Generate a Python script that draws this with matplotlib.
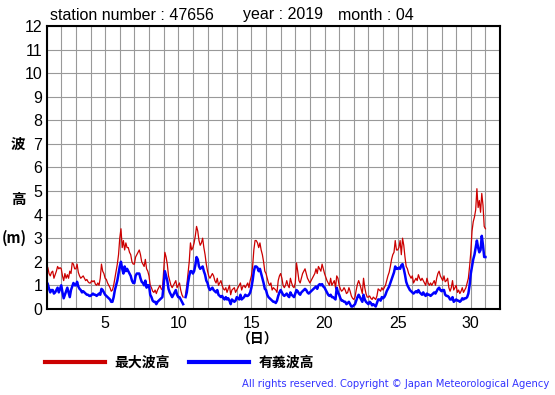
import numpy as np
import matplotlib
matplotlib.use("Agg")
import matplotlib.pyplot as plt

plt.rcParams['font.family'] = ['Liberation Sans', 'Noto Sans CJK JP', 'DejaVu Sans']

# 2-hourly readings, April 2019 (day 1 00h ... day 30 22h, plus 31 00h)
max_wave = [
    1.85, 1.75, 1.5, 1.4, 1.55, 1.6, 1.3, 1.45, 1.6, 1.8, 1.7, 1.75,      # 1
    1.7, 1.4, 1.2, 1.5, 1.3, 1.45, 1.3, 1.6, 1.5, 1.95, 1.9, 1.7,         # 2
    1.7, 1.9, 1.55, 1.4, 1.3, 1.35, 1.4, 1.3, 1.2, 1.25, 1.15, 1.1,       # 3
    1.1, 1.2, 1.15, 1.2, 1.05, 1.0, 1.1, 1.0, 1.3, 1.9, 1.6, 1.5,         # 4
    1.3, 1.25, 1.1, 1.0, 0.9, 0.75, 0.8, 1.0, 1.3, 1.6, 1.9, 2.3,         # 5
    3.0, 3.4, 2.6, 2.9, 2.5, 2.8, 2.6, 2.6, 2.4, 2.3, 2.0, 1.9,           # 6
    1.9, 2.2, 2.3, 2.4, 2.5, 2.3, 2.0, 1.9, 1.8, 2.1, 1.7, 1.6,           # 7
    1.4, 1.0, 0.9, 0.75, 0.7, 0.8, 0.65, 0.8, 0.9, 1.0, 0.85, 0.8,        # 8
    1.6, 2.4, 2.2, 1.9, 1.4, 1.2, 1.0, 0.9, 1.0, 1.1, 1.2, 0.9,           # 9
    1.0, 1.1, 0.8, 0.6, 0.5, np.nan, 0.6, 1.0, 1.5, 2.0, 2.8, 2.5,        # 10
    2.6, 2.8, 3.1, 3.5, 3.3, 2.9, 2.7, 2.8, 3.0, 2.6, 2.3, 1.9,           # 11
    1.6, 1.4, 1.3, 1.4, 1.5, 1.4, 1.2, 1.1, 1.3, 1.0, 1.1, 1.2,           # 12
    1.0, 0.85, 0.8, 0.9, 0.7, 0.85, 1.0, 0.6, 0.8, 0.85, 0.9, 0.7,        # 13
    0.8, 0.9, 1.0, 1.1, 0.8, 0.95, 1.0, 0.9, 1.0, 1.1, 0.9, 1.2,          # 14
    1.4, 1.8, 2.5, 2.9, 2.9, 2.8, 2.6, 2.8, 2.5, 2.3, 2.0, 1.6,           # 15
    1.5, 1.3, 1.1, 1.0, 1.1, 0.8, 0.9, 0.85, 0.8, 0.7, 1.2, 1.4,          # 16
    1.5, 1.3, 1.0, 0.9, 1.0, 1.2, 1.0, 0.9, 1.3, 1.1, 0.95, 0.9,          # 17
    1.1, 1.95, 1.6, 1.2, 1.1, 1.3, 1.5, 1.6, 1.7, 1.5, 1.3, 1.2,          # 18
    1.1, 1.2, 1.3, 1.4, 1.5, 1.7, 1.5, 1.8, 1.7, 1.6, 1.9, 1.7,           # 19
    1.5, 1.35, 1.2, 1.1, 1.0, 1.3, 1.0, 1.1, 1.2, 0.9, 1.4, 1.3,          # 20
    1.0, 0.85, 0.75, 0.8, 0.9, 0.8, 0.65, 0.7, 0.9, 0.75, 0.55, 0.45,     # 21
    0.4, 0.5, 0.8, 1.05, 1.2, 1.05, 0.85, 0.65, 1.3, 0.9, 0.65, 0.5,      # 22
    0.5, 0.55, 0.45, 0.4, 0.5, 0.45, 0.4, 0.55, 0.85, 0.8, 0.75, 0.9,     # 23
    0.8, 0.9, 1.0, 1.2, 1.4, 1.55, 1.8, 2.1, 2.3, 2.4, 2.9, 2.5,          # 24
    2.5, 2.6, 2.9, 2.3, 3.0, 2.7, 2.2, 1.8, 1.7, 1.5, 1.4, 1.3,           # 25
    1.4, 1.1, 1.2, 1.3, 1.2, 1.45, 1.3, 1.2, 1.3, 1.2, 1.1, 1.0,          # 26
    1.3, 1.1, 1.0, 1.1, 1.0, 1.1, 1.2, 1.0, 1.3, 1.5, 1.6, 1.4,           # 27
    1.3, 1.2, 1.4, 1.15, 1.2, 1.3, 0.9, 0.75, 0.9, 1.2, 0.8, 0.9,         # 28
    1.0, 0.7, 0.8, 0.65, 0.75, 0.9, 0.7, 0.8, 0.9, 1.1, 1.3, 1.8,         # 29
    2.4, 3.3, 3.7, 3.9, 4.2, 5.1, 4.3, 4.6, 4.1, 4.9, 4.4, 3.5,           # 30
    3.4,
]
sig_wave = [
    1.15, 1.05, 0.85, 0.7, 0.8, 0.8, 0.65, 0.7, 0.8, 0.9, 0.7, 0.85,      # 1
    1.0, 0.7, 0.45, 0.6, 0.75, 0.9, 0.7, 0.5, 0.8, 0.95, 1.1, 1.0,        # 2
    1.0, 1.15, 0.95, 0.85, 0.8, 0.7, 0.75, 0.7, 0.65, 0.6, 0.6, 0.55,     # 3
    0.55, 0.6, 0.65, 0.6, 0.6, 0.55, 0.6, 0.65, 0.6, 0.85, 0.8, 0.7,      # 4
    0.6, 0.55, 0.5, 0.45, 0.4, 0.3, 0.3, 0.5, 0.8, 1.0, 1.2, 1.5,         # 5
    1.8, 2.0, 1.7, 1.5, 1.8, 1.6, 1.7, 1.6, 1.5, 1.4, 1.2, 1.1,           # 6
    1.1, 1.4, 1.5, 1.5, 1.5, 1.3, 1.15, 1.1, 1.0, 1.2, 0.9, 1.0,          # 7
    1.0, 0.6, 0.5, 0.35, 0.3, 0.3, 0.2, 0.3, 0.35, 0.4, 0.45, 0.5,        # 8
    1.0, 1.6, 1.4, 1.2, 0.85, 0.7, 0.6, 0.5, 0.6, 0.7, 0.8, 0.6,          # 9
    0.5, 0.5, 0.4, 0.3, 0.2, np.nan, 0.5, 0.7, 1.1, 1.4, 1.6, 1.6,        # 10
    1.5, 1.6, 1.85, 2.2, 2.1, 1.8, 1.7, 1.75, 1.8, 1.6, 1.45, 1.2,        # 11
    1.1, 0.9, 0.8, 0.85, 0.9, 0.8, 0.75, 0.7, 0.8, 0.6, 0.55, 0.5,        # 12
    0.55, 0.45, 0.4, 0.5, 0.4, 0.45, 0.35, 0.2, 0.4, 0.35, 0.3, 0.35,     # 13
    0.5, 0.45, 0.4, 0.6, 0.4, 0.45, 0.5, 0.6, 0.55, 0.55, 0.6, 0.7,       # 14
    0.9, 1.2, 1.6, 1.8, 1.8, 1.75, 1.6, 1.7, 1.5, 1.3, 1.1, 0.85,         # 15
    0.8, 0.6, 0.5, 0.45, 0.4, 0.35, 0.3, 0.3, 0.25, 0.35, 0.55, 0.7,      # 16
    0.8, 0.7, 0.6, 0.55, 0.6, 0.65, 0.55, 0.5, 0.7, 0.6, 0.55, 0.5,       # 17
    0.65, 0.8, 0.75, 0.65, 0.6, 0.7, 0.75, 0.8, 0.85, 0.8, 0.7, 0.65,     # 18
    0.7, 0.75, 0.8, 0.85, 0.9, 0.95, 0.85, 1.0, 1.05, 1.0, 1.05, 0.95,    # 19
    0.9, 0.8, 0.7, 0.6, 0.55, 0.6, 0.5, 0.5, 0.45, 0.4, 0.9, 0.7,         # 20
    0.6, 0.45, 0.35, 0.35, 0.3, 0.3, 0.2, 0.25, 0.3, 0.2, 0.1, 0.1,       # 21
    0.15, 0.2, 0.35, 0.5, 0.6, 0.5, 0.4, 0.3, 0.6, 0.4, 0.3, 0.25,        # 22
    0.2, 0.3, 0.25, 0.15, 0.2, 0.15, 0.1, 0.25, 0.4, 0.4, 0.35, 0.5,      # 23
    0.45, 0.5, 0.6, 0.75, 0.85, 0.95, 1.1, 1.25, 1.4, 1.55, 1.8, 1.7,     # 24
    1.7, 1.75, 1.7, 1.85, 1.9, 1.7, 1.45, 1.15, 1.0, 0.9, 0.8, 0.75,      # 25
    0.7, 0.65, 0.7, 0.75, 0.7, 0.8, 0.7, 0.65, 0.6, 0.7, 0.6, 0.55,       # 26
    0.65, 0.6, 0.6, 0.55, 0.6, 0.65, 0.7, 0.65, 0.75, 0.85, 0.9, 0.8,     # 27
    0.75, 0.8, 0.8, 0.6, 0.55, 0.55, 0.5, 0.4, 0.4, 0.5, 0.3, 0.35,       # 28
    0.4, 0.35, 0.35, 0.3, 0.35, 0.45, 0.4, 0.45, 0.45, 0.5, 0.65, 1.0,    # 29
    1.5, 1.8, 2.1, 2.3, 2.6, 2.9, 2.6, 2.4, 2.5, 3.1, 2.7, 2.2,           # 30
    2.2,
]
day_ticks = [5, 10, 15, 20, 25, 30]
height_ticks = list(range(0, 13))

t = 1 + np.arange(len(max_wave)) * 2 / 24.0

fig = plt.figure(figsize=(5.55, 3.95), dpi=100)
ax = fig.add_axes([0.084, 0.218, 0.817, 0.716])

ax.plot(t, max_wave, color="#cc0000", lw=0.9)
ax.plot(t, sig_wave, color="#0000ff", lw=1.8)

ax.set_xlim(1, 32)
ax.set_ylim(0, 12)
ax.set_xticks(day_ticks)
ax.set_yticks(height_ticks)
ax.set_xticks(np.arange(1, 33), minor=True)
ax.grid(which="both", color="#999999", lw=0.8)
ax.tick_params(which="both", length=0, labelsize=11.5)
ax.tick_params(axis="x", pad=5)
ax.tick_params(axis="y", pad=3)
for s in ax.spines.values():
    s.set_color("black"); s.set_linewidth(1.5)

fig.text(50/555, 1 - 15/395, "station number : 47656", fontsize=11.5, va="center")
fig.text(243/555, 1 - 15/395, "year : 2019", fontsize=11.5, va="center")
fig.text(338/555, 1 - 15/395, "month : 04", fontsize=11.5, va="center")

cjk = ["Noto Sans CJK JP", "DejaVu Sans"]
fig.text(18/555, 1 - 144/395, "波", family=cjk, fontsize=10.5, weight="bold", ha="center", va="center")
fig.text(18/555, 1 - 199/395, "高", family=cjk, fontsize=10.5, weight="bold", ha="center", va="center")
fig.text(14/555, 1 - 238/395, "(m)", family=cjk, fontsize=10.5, weight="bold", ha="center", va="center")
fig.text(258/555, 1 - 340/395, "（日）", family=cjk, fontsize=10, weight="bold", ha="center", va="center")

leg = ax.legend(["最大波高", "有義波高"], loc="center left", bbox_to_anchor=(45/555, 1 - 363/395),
                bbox_transform=fig.transFigure, ncol=2, frameon=False, borderpad=0, borderaxespad=0,
                handlelength=4.3, handletextpad=0.7, columnspacing=1.4,
                prop={"family": cjk, "size": 10, "weight": "bold"})
for h in leg.get_lines():
    h.set_linewidth(3)

fig.text(549/555, 1 - 384/395, "All rights reserved. Copyright © Japan Meteorological Agency",
         family="DejaVu Sans", fontsize=7.2, color="#3333ff", ha="right", va="center")

fig.savefig("out.png", dpi=100)
